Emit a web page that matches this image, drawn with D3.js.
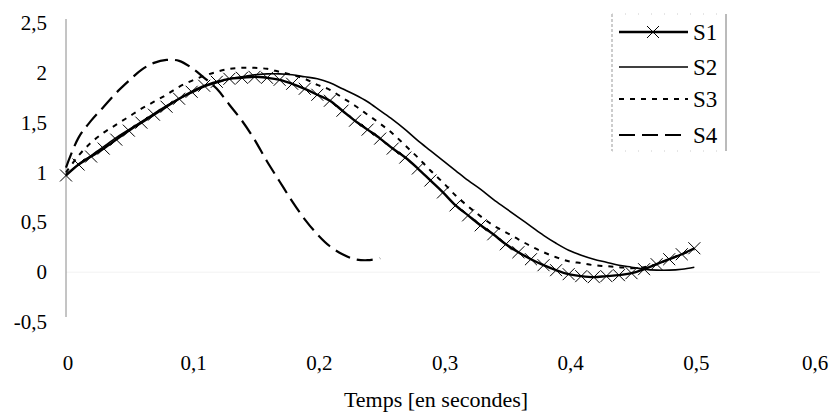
<!DOCTYPE html>
<html><head><meta charset="utf-8"><script src="https://cdn.jsdelivr.net/npm/d3@7"></script></head>
<body style="margin:0">
<svg id="chart" width="834" height="412"></svg>
<script>
// ---- data ----
const times = [0,0.01,0.02,0.03,0.04,0.05,0.06,0.07,0.08,0.09,
  0.10,0.11,0.12,0.13,0.14,0.15,0.16,0.17,0.18,0.19,
  0.20,0.21,0.22,0.23,0.24,0.25,0.26,0.27,0.28,0.29,
  0.30,0.31,0.32,0.33,0.34,0.35,0.36,0.37,0.38,0.39,
  0.40,0.41,0.42,0.43,0.44,0.45,0.46,0.47,0.48,0.49,0.50];

const s1 = [0.97,1.08,1.16,1.24,1.33,1.42,1.50,1.58,1.66,1.74,
  1.81,1.87,1.91,1.94,1.95,1.96,1.95,1.93,1.89,1.84,
  1.78,1.72,1.62,1.52,1.43,1.34,1.24,1.15,1.04,0.92,
  0.80,0.67,0.57,0.47,0.38,0.28,0.20,0.13,0.07,0.02,
  -0.02,-0.04,-0.05,-0.04,-0.03,-0.01,0.03,0.08,0.13,0.18,0.24];

const s2 = [0.98,1.08,1.17,1.26,1.35,1.43,1.51,1.59,1.67,1.74,
  1.80,1.86,1.90,1.94,1.96,1.98,1.99,1.99,1.98,1.96,
  1.94,1.90,1.84,1.78,1.71,1.62,1.53,1.43,1.32,1.22,
  1.12,1.02,0.92,0.83,0.73,0.64,0.55,0.46,0.37,0.29,
  0.22,0.17,0.13,0.10,0.07,0.05,0.03,0.02,0.02,0.03,0.05];

const s3 = [1.00,1.17,1.30,1.40,1.48,1.56,1.64,1.71,1.78,1.86,
  1.92,1.97,2.01,2.04,2.05,2.05,2.04,2.01,1.98,1.94,
  1.88,1.83,1.75,1.67,1.58,1.49,1.39,1.27,1.15,1.02,
  0.90,0.77,0.66,0.56,0.47,0.40,0.33,0.26,0.20,0.15,
  0.11,0.09,0.07,0.06,0.05,0.04,0.05,0.08,0.13,0.18,0.23];

const s4 = [1.05,1.35,1.52,1.66,1.80,1.92,2.03,2.10,2.13,2.12,
  2.05,1.95,1.84,1.68,1.52,1.33,1.11,0.91,0.71,0.53,
  0.38,0.26,0.18,0.13,0.12,0.14];

const seriesNames = ["S1","S2","S3","S4"];
const xTicks = [0,0.1,0.2,0.3,0.4,0.5,0.6];
const yTicks = [-0.5,0,0.5,1,1.5,2,2.5];
const xTitle = "Temps [en secondes]";

// ---- drawing ----
const svg = d3.select("#chart");
const fmt = v => String(v).replace(".", ",");
const serif = sel => sel.style("font-family", () => `"Liberation Serif", monospace`);

const x = d3.scaleLinear().domain([0, 0.6]).range([66, 820]);
const y = d3.scaleLinear().domain([-0.5, 2.5]).range([322, 23]);

svg.append("rect").attr("width", 834).attr("height", 412).attr("fill", "#fff");

// faint horizontal axis at 0
svg.append("line")
  .attr("x1", x(0)).attr("x2", x(0.6))
  .attr("y1", y(0)).attr("y2", y(0))
  .attr("stroke", "#f2f2f2").attr("stroke-width", 1);

// vertical axis
svg.append("line")
  .attr("x1", x(0)).attr("x2", x(0))
  .attr("y1", y(2.5) - 4).attr("y2", y(-0.5) - 5)
  .attr("stroke", "#8a8a8a").attr("stroke-width", 1);

// y tick labels
svg.append("g").selectAll("text").data(yTicks).join("text")
  .call(serif)
  .attr("font-size", 21)
  .attr("x", 47).attr("y", d => y(d) + 7)
  .attr("text-anchor", "end")
  .text(d => fmt(d));

// x tick labels
svg.append("g").selectAll("text").data(xTicks).join("text")
  .call(serif)
  .attr("font-size", 21)
  .attr("x", d => Math.min(x(d) + 2, 815)).attr("y", 370)
  .attr("text-anchor", "middle")
  .text(d => fmt(d));

// axis title
svg.append("text")
  .call(serif)
  .attr("font-size", 22)
  .attr("x", 436).attr("y", 407)
  .attr("text-anchor", "middle")
  .text(xTitle);

const line = d3.line()
  .x(d => x(d[0])).y(d => y(d[1]))
  .curve(d3.curveCatmullRom.alpha(0.5));

const pts = arr => arr.map((v, i) => [times[i], v]);

const styles = {
  S1: { w: 2.4, dash: null },
  S2: { w: 1.6, dash: null },
  S3: { w: 2.0, dash: "5,6" },
  S4: { w: 2.2, dash: "16,7" }
};
const dataMap = { S1: s1, S2: s2, S3: s3, S4: s4 };

["S4","S2","S3","S1"].forEach(name => {
  svg.append("path")
    .datum(pts(dataMap[name]))
    .attr("d", line)
    .attr("fill", "none")
    .attr("stroke", "#000")
    .attr("stroke-width", styles[name].w)
    .attr("stroke-dasharray", styles[name].dash)
    .attr("stroke-linejoin", "round");
});

// S1 markers (x shapes)
const m = 6;
svg.append("g").selectAll("path").data(pts(s1)).join("path")
  .attr("d", d => {
    const cx = x(d[0]), cy = y(d[1]);
    return `M${cx-m},${cy-m}L${cx+m},${cy+m}M${cx-m},${cy+m}L${cx+m},${cy-m}`;
  })
  .attr("stroke", "#000").attr("stroke-width", 1).attr("fill", "none");

// legend
const lg = svg.append("g");
const lx0 = 612, lx1 = 726, ly0 = 14, ly1 = 151;
lg.append("line").attr("x1", lx0).attr("x2", lx0).attr("y1", ly0).attr("y2", ly1)
  .attr("stroke", "#999").attr("stroke-width", 1).attr("stroke-dasharray", "3,2");
lg.append("line").attr("x1", lx1).attr("x2", lx1).attr("y1", ly0).attr("y2", ly1)
  .attr("stroke", "#777").attr("stroke-width", 1);
lg.append("line").attr("x1", lx0).attr("x2", lx1).attr("y1", ly0).attr("y2", ly0)
  .attr("stroke", "#ccc").attr("stroke-width", 1).attr("stroke-dasharray", "1,12");
lg.append("line").attr("x1", lx0).attr("x2", lx1).attr("y1", ly1).attr("y2", ly1)
  .attr("stroke", "#ccc").attr("stroke-width", 1).attr("stroke-dasharray", "1,12");

const legendY = [32, 67, 99, 135];
seriesNames.forEach((name, i) => {
  const yy = legendY[i];
  lg.append("line")
    .attr("x1", 619).attr("x2", 688).attr("y1", yy).attr("y2", yy)
    .attr("stroke", "#000").attr("stroke-width", styles[name].w)
    .attr("stroke-dasharray", styles[name].dash);
  if (name === "S1") {
    const cx = 653;
    lg.append("path")
      .attr("d", `M${cx-m},${yy-m}L${cx+m},${yy+m}M${cx-m},${yy+m}L${cx+m},${yy-m}`)
      .attr("stroke", "#000").attr("stroke-width", 1);
  }
  lg.append("text")
    .call(serif)
    .attr("font-size", 23)
    .attr("x", 693).attr("y", yy + 8)
    .text(name);
});
</script>
</body>
</html>
